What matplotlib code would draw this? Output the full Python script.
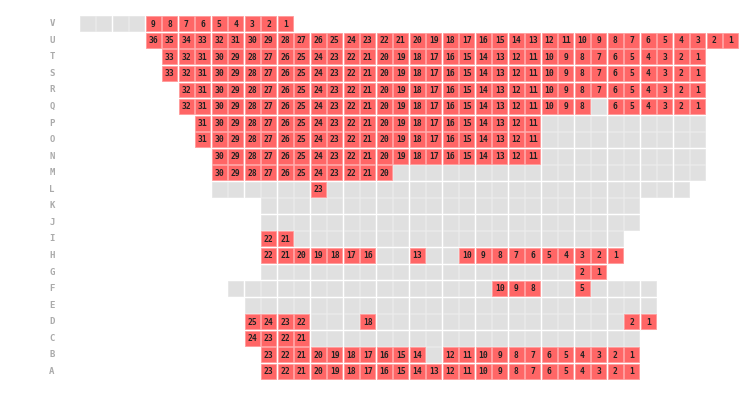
import matplotlib
matplotlib.use("Agg")
import matplotlib.pyplot as plt
from matplotlib.patches import Rectangle

row_labels = ["V", "U", "T", "S", "R", "Q", "P", "O", "N", "M", "L",
              "K", "J", "I", "H", "G", "F", "E", "D", "C", "B", "A"]
row_first_col = [0, 4, 5, 5, 6, 6, 7, 7, 8, 8, 8,
                 11, 11, 11, 11, 11, 9, 10, 10, 10, 11, 11]
row_seat_count = [13, 36, 33, 33, 32, 32, 31, 31, 30, 30, 29,
                  23, 23, 22, 22, 21, 26, 25, 25, 24, 23, 23]

booked_V = list(range(9, 0, -1))
booked_U = list(range(36, 0, -1))
booked_T = list(range(33, 0, -1))
booked_S = list(range(33, 0, -1))
booked_R = list(range(32, 0, -1))
booked_Q = [s for s in range(32, 0, -1) if s != 7]
booked_P = list(range(31, 10, -1))
booked_O = list(range(31, 10, -1))
booked_N = list(range(30, 10, -1))
booked_M = list(range(30, 19, -1))
booked_L = [23]
booked_K = []
booked_J = []
booked_I = [22, 21]
booked_H = [22, 21, 20, 19, 18, 17, 16, 13, 10, 9, 8, 7, 6, 5, 4, 3, 2, 1]
booked_G = [2, 1]
booked_F = [10, 9, 8, 5]
booked_E = []
booked_D = [25, 24, 23, 22, 18, 2, 1]
booked_C = [24, 23, 22, 21]
booked_B = [23, 22, 21, 20, 19, 18, 17, 16, 15, 14, 12, 11, 10, 9, 8, 7, 6, 5, 4, 3, 2, 1]
booked_A = list(range(23, 0, -1))

booked = [booked_V, booked_U, booked_T, booked_S, booked_R, booked_Q, booked_P,
          booked_O, booked_N, booked_M, booked_L, booked_K, booked_J, booked_I,
          booked_H, booked_G, booked_F, booked_E, booked_D, booked_C, booked_B,
          booked_A]

RED = "#ff6666"
RED_EDGE = "#ff9a9a"
GRAY = "#e0e0e0"

fig = plt.figure(figsize=(7.46, 4.13), dpi=100)
ax = fig.add_axes([0, 0, 1, 1])
cell = 16.5
ax.set_xlim(-79 / cell, (746 - 79) / cell)
ax.set_ylim((413 - 15.5) / 16.55 - 0.5, -15.5 / 16.55 - 0.5)
ax.axis("off")

w = 0.9
for r, lab in enumerate(row_labels):
    ax.text(-1.64, r, lab, ha="center", va="center", fontsize=6.5,
            color="#aaaaaa", family="DejaVu Sans Mono", fontweight="bold")
    n = row_seat_count[r]
    c0 = row_first_col[r]
    for i in range(n):
        seat = n - i
        col = c0 + i
        is_booked = seat in booked[r]
        ax.add_patch(Rectangle((col + (1 - w) / 2, r - w / 2), w, w,
                               facecolor=RED if is_booked else GRAY,
                               edgecolor=RED_EDGE if is_booked else "#e6e6e6",
                               linewidth=0.6))
        if is_booked:
            ax.text(col + 0.5, r + 0.02, str(seat), ha="center", va="center",
                    fontsize=5.8, color="#222222", family="DejaVu Sans Mono",
                    fontweight="bold")

fig.savefig("out.png", dpi=100)
